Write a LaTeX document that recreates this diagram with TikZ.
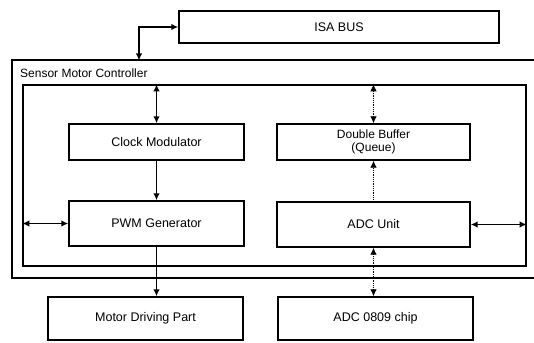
\documentclass[tikz,border=0pt]{standalone}
\usepackage{fontspec}
\setmainfont{Liberation Sans}
\usepackage{tikz}
\usetikzlibrary{arrows.meta, positioning}

\begin{document}
\begin{tikzpicture}[x=1pt, y=-1pt, >={Latex[length=7pt,width=6.5pt]},
    blk/.style={draw, line width=1.4pt, align=center, inner sep=0pt,
        font=\fontsize{12.5}{13}\selectfont},
    solidlink/.style={line width=1.8pt},
    dotlink/.style={line width=0.8pt, densely dotted}]
    \useasboundingbox (0,0) rectangle (534,342);

    % 外框
    \node[draw, line width=1.3pt, minimum width=534, minimum height=218] (ctrl) at (279,169) {};
    \node[draw, line width=1.4pt, minimum width=503, minimum height=181] (inner) at (274.5,175.5) {};
    \node[anchor=west, inner sep=0pt, font=\fontsize{12}{12}\selectfont] (ctrllabel) at (20,73) {Sensor Motor Controller};

    % 节点
    \node[blk, minimum width=320, minimum height=32] (isa)    at (339,27)      {ISA BUS};
    \node[blk, minimum width=175, minimum height=36] (clock)  at (156.5,142)   {Clock Modulator};
    \node[blk, minimum width=193, minimum height=36, font=\fontsize{12}{12.5}\selectfont] (buffer) at (373.5,142) {Double Buffer\\(Queue)};
    \node[blk, minimum width=175, minimum height=45] (pwm)    at (156.5,223.5) {PWM Generator};
    \node[blk, minimum width=193, minimum height=45] (adcu)   at (373.5,224.5) {ADC Unit};
    \node[blk, minimum width=195, minimum height=43] (motor)  at (145.5,318.5) {Motor Driving Part};
    \node[blk, minimum width=195, minimum height=43] (chip)   at (375.5,318.5) {ADC 0809 chip};
    \coordinate (busin) at (139,60.5);

    % 箭头
    \draw[<->, solidlink] (isa.west) -| (busin);
    \draw[<->, solidlink] (clock.north |- inner.north) -- (clock.north);
    \draw[->, solidlink] (clock.south) -- (pwm.north);
    \draw[->, solidlink] (pwm.south) -- (pwm.south |- motor.north);
    \draw[<->, solidlink] (inner.west |- pwm.west) -- (pwm.west);
    \draw[<->, solidlink] (adcu.east) -- (adcu.east -| inner.east);
    \draw[<->, dotlink] (buffer.north |- inner.north) -- (buffer.north);
    \draw[->, dotlink] (adcu.north) -- (buffer.south);
    \draw[<->, dotlink] (adcu.south) -- (adcu.south |- chip.north);
\end{tikzpicture}
\end{document}
